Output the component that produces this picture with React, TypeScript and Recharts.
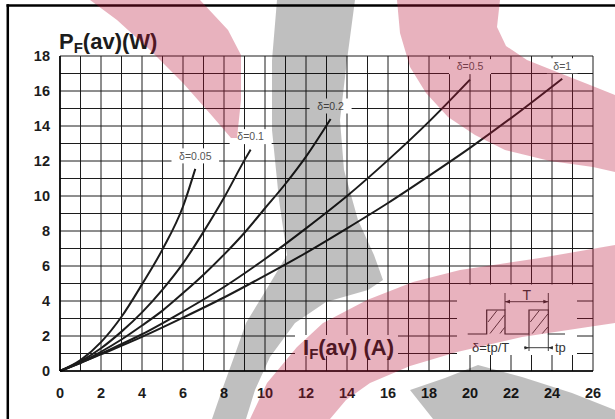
import React from 'react';
import { LineChart, Line, XAxis, YAxis, CartesianGrid } from 'recharts';

// ---- data ----
const X_TICKS = [0, 1, 2, 3, 4, 5, 6, 7, 8, 9, 10, 11, 12, 13, 14, 15, 16, 17, 18, 19, 20, 21, 22, 23, 24, 25, 26];
const Y_TICKS = [0, 1, 2, 3, 4, 5, 6, 7, 8, 9, 10, 11, 12, 13, 14, 15, 16, 17, 18];

const I_D005 = [0, 1, 2, 3, 4, 5, 6, 6.6];
const P_D005 = [0, 0.62, 1.65, 3.1, 4.95, 6.95, 9.4, 11.55];

const I_D01 = [0, 1, 2, 3, 4, 5, 6, 7, 8, 9, 9.3];
const P_D01 = [0, 0.55, 1.3, 2.25, 3.35, 4.65, 6.15, 7.95, 9.9, 12.05, 12.65];

const I_D02 = [0, 1, 2, 3, 4, 5, 6, 7, 8, 9, 10, 11, 12, 13.2];
const P_D02 = [0, 0.5, 1.1, 1.8, 2.6, 3.45, 4.45, 5.5, 6.65, 7.9, 9.3, 10.7, 12.25, 14.4];

const I_D05 = [0, 1, 2, 4, 6, 8, 10, 12, 14, 16, 18, 20];
const P_D05 = [0, 0.47, 1.0, 2.1, 3.4, 4.8, 6.4, 8.15, 10.0, 12.05, 14.25, 16.65];

const I_D1 = [0, 1, 2, 4, 6, 8, 10, 12, 14, 16, 18, 20, 22, 24.5];
const P_D1 = [0, 0.46, 0.95, 1.95, 3.05, 4.2, 5.45, 6.75, 8.15, 9.6, 11.15, 12.75, 14.45, 16.7];

const SERIES_LABELS = ['δ=0.05', 'δ=0.1', 'δ=0.2', 'δ=0.5', 'δ=1'];

const zip = (xs: number[], ys: number[]) => xs.map((x, i) => ({ x, y: ys[i] }));
const SERIES = [
  zip(I_D005, P_D005),
  zip(I_D01, P_D01),
  zip(I_D02, P_D02),
  zip(I_D05, P_D05),
  zip(I_D1, P_D1),
].map((points, i) => ({ points, label: SERIES_LABELS[i] }));

const FONT = '"Liberation Sans", Arial, Helvetica, sans-serif';
const INK = '#1c1c1c';

const endLabel = (text: string, last: number) => (p: any) => {
  const key = `dot-${text}-${p.index}`;
  if (p.index !== last || p.cx == null || p.cy == null) return <g key={key} />;
  const w = text.length * 5.6 + 14;
  const cy = p.cy - 13;
  return (
    <g key={key}>
      <rect x={p.cx - w / 2} y={cy - 7.5} width={w} height={15} fill="#fff" />
      <text x={p.cx} y={cy + 3.8} textAnchor="middle" fontSize={10.5} fill="#555" fontFamily={FONT}>
        {text}
      </text>
    </g>
  );
};

const Overlay = () => (
  <svg width={615} height={419} style={{ position: 'absolute', left: 0, top: 0, pointerEvents: 'none' }}>
    {/* white boxes hiding grid */}
    <rect x={295} y={335} width={103} height={21} fill="#fff" />
    <rect x={457} y={284.5} width={120} height={70.5} fill="#fff" />

    {/* axis titles */}
    <text x={59} y={49} fontSize={22} fontWeight="bold" fill={INK} fontFamily={FONT}>
      P<tspan fontSize={15} dy={4}>F</tspan>
      <tspan fontSize={22} dy={-4}>(av)(W)</tspan>
    </text>
    <text x={303} y={355} fontSize={22} fontWeight="bold" fill={INK} fontFamily={FONT}>
      I<tspan fontSize={15} dy={4}>F</tspan>
      <tspan fontSize={22} dy={-4}>(av) (A)</tspan>
    </text>

    {/* inset pulse diagram */}
    <g stroke="#2a2a2a" strokeWidth={1.2} fill="none">
      <polyline points="467.7,334 486.7,334 486.7,310 505,310 505,334 529,334 529,310 548.3,310 548.3,334 565,334" />
      <line x1={488} y1={322} x2={497} y2={310.5} strokeWidth={0.9} />
      <line x1={490} y1={333.5} x2={504.5} y2={315} strokeWidth={0.9} />
      <line x1={500} y1={333.5} x2={504.5} y2={327.5} strokeWidth={0.9} />
      <line x1={530.3} y1={322} x2={539.3} y2={310.5} strokeWidth={0.9} />
      <line x1={532.3} y1={333.5} x2={547.8} y2={314} strokeWidth={0.9} />
      <line x1={542.3} y1={333.5} x2={547.8} y2={327} strokeWidth={0.9} />
      <line x1={505} y1={293} x2={505} y2={310} strokeWidth={0.9} />
      <line x1={548.3} y1={293} x2={548.3} y2={310} strokeWidth={0.9} />
      <line x1={505} y1={301.7} x2={548.3} y2={301.7} strokeWidth={0.9} />
      <line x1={529} y1={334} x2={529} y2={351} strokeWidth={0.9} />
      <line x1={548.3} y1={334} x2={548.3} y2={351} strokeWidth={0.9} />
      <line x1={524} y1={347.7} x2={553} y2={347.7} strokeWidth={0.9} />
    </g>
    <g fill="#2a2a2a">
      <polygon points="505,301.7 510,299.8 510,303.6" />
      <polygon points="548.3,301.7 543.3,299.8 543.3,303.6" />
      <polygon points="529,347.7 524.5,345.9 524.5,349.5" />
      <polygon points="548.3,347.7 552.8,345.9 552.8,349.5" />
    </g>
    <text x={526.7} y={300} textAnchor="middle" fontSize={14} fill="#333" fontFamily={FONT}>T</text>
    <text x={555} y={352} fontSize={13} fill="#333" fontFamily={FONT}>tp</text>
    <text x={472} y={352} fontSize={13} fill="#333" fontFamily={FONT}>δ=tp/T</text>

    {/* outer frame */}
    <line x1={6.5} y1={5.5} x2={615} y2={5.5} stroke="#000" strokeWidth={2.5} />
    <line x1={7.8} y1={4.3} x2={7.8} y2={419} stroke="#000" strokeWidth={2.5} />

    {/* watermark */}
    <g fill="rgb(183,14,52)" fillOpacity={0.32}>
      <polygon points="90,0 200,0 228,30 241,55 241,100 237,138 231,138 213,117 183,83 150,50 117,20" />
      <polygon points="397,0 500,0 497,27 506,46 527,60 557,72 590,85 615,95 615,172 593,167 550,161 505,150 475,135 448,117 426,93 410,67 400,33" />
      <polygon points="615,245 540,258 460,270 413,282 367,300 323,323 297,347 267,383 250,419 330,419 346,400 370,383 410,366 457,352 522,337 588,327 615,323" />
    </g>
    <g fill="#000" fillOpacity={0.25}>
      <polygon points="277,0 355,0 347,60 340,120 344,170 358,220 374,255 383,280 368,290 326,302 295,323 270,357 255,390 246,419 212,419 222,390 234,357 246,323 263,295 287,255 279,200 272,130 272,60" />
      <polygon points="410,390 445,378 478,365 522,377 572,393 615,410 615,419 433,419" />
    </g>
  </svg>
);

export default function App() {
  return (
    <div style={{ position: 'absolute', left: 0, top: 0, width: 615, height: 419, background: '#fff' }}>
      <LineChart width={615} height={419} margin={{ top: 56, right: 22, bottom: 18, left: 10 }}>
        <CartesianGrid stroke={INK} strokeWidth={1} />
        <XAxis
          type="number"
          dataKey="x"
          domain={[0, 26]}
          ticks={X_TICKS}
          interval={0}
          height={30}
          tickLine={false}
          tickSize={14}
          tickMargin={3}
          axisLine={{ stroke: '#000', strokeWidth: 1.6 }}
          tickFormatter={(v: number) => (v % 2 === 0 ? String(v) : '')}
          tick={{ fontSize: 14.5, fontWeight: 'bold', fill: INK, fontFamily: FONT }}
        />
        <YAxis
          type="number"
          domain={[0, 18]}
          ticks={Y_TICKS}
          interval={0}
          width={50}
          tickLine={false}
          tickSize={8}
          tickMargin={2}
          axisLine={{ stroke: '#000', strokeWidth: 1.6 }}
          tickFormatter={(v: number) => (v % 2 === 0 ? String(v) : '')}
          tick={{ fontSize: 14.5, fontWeight: 'bold', fill: INK, fontFamily: FONT }}
        />
        {SERIES.map((s) => (
          <Line
            key={s.label}
            data={s.points}
            dataKey="y"
            type="monotone"
            stroke={INK}
            strokeWidth={2}
            dot={endLabel(s.label, s.points.length - 1)}
            activeDot={false}
            isAnimationActive={false}
          />
        ))}
      </LineChart>
      <Overlay />
    </div>
  );
}
